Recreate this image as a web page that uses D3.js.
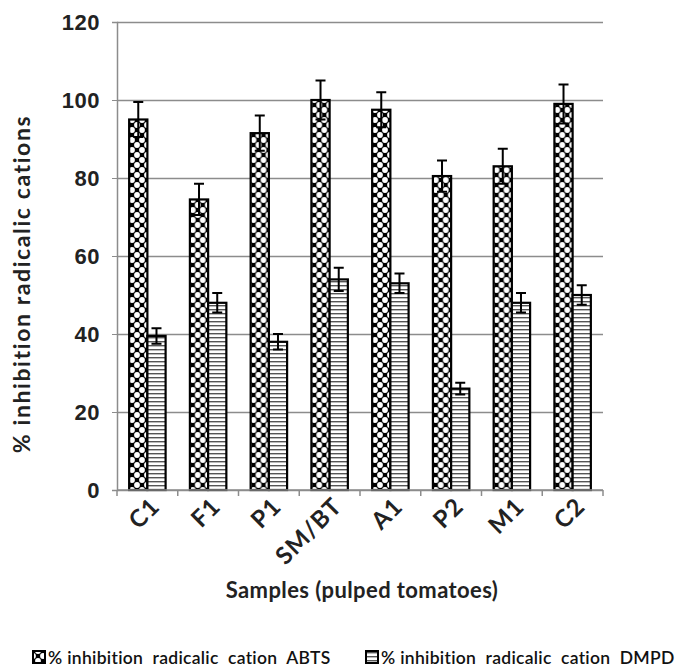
<!DOCTYPE html>
<html>
<head>
<meta charset="utf-8">
<script src="https://cdn.jsdelivr.net/npm/d3@7"></script>
<style>
  body { margin: 0; background: #fff; }
  svg { font-family: "Lato", "Open Sans", sans-serif; }
</style>
</head>
<body>
<svg id="chart" width="676" height="670"></svg>
<script>
var samples = ["C1", "F1", "P1", "SM/BT", "A1", "P2", "M1", "C2"];
var seriesNames = ["% inhibition  radicalic  cation  ABTS", "% inhibition  radicalic  cation  DMPD"];
var abts = [95, 74.5, 91.5, 100, 97.5, 80.5, 83, 99];
var abtsErr = [4.5, 4, 4.5, 5, 4.5, 4, 4.5, 5];
var dmpd = [39.5, 48, 38, 54, 53, 26, 48, 50];
var dmpdErr = [2, 2.5, 2, 3, 2.5, 1.5, 2.5, 2.5];
var yTicks = [0, 20, 40, 60, 80, 100, 120];

function drawChart() {
    var svg = d3.select("#chart");

    var defs = svg.append("defs");
    // diamond pattern for ABTS: black diamonds, white rounded gaps
    var pd = defs.append("pattern").attr("id", "diam")
        .attr("patternUnits", "userSpaceOnUse").attr("width", 10).attr("height", 10);
    pd.append("rect").attr("width", 10).attr("height", 10).attr("fill", "#000");
    [[5, 0], [0, 5], [10, 5], [5, 10]].forEach(function(c) {
        pd.append("circle").attr("cx", c[0]).attr("cy", c[1]).attr("r", 2.9).attr("fill", "#fff");
    });
    // horizontal stripes for DMPD
    var ps = defs.append("pattern").attr("id", "stripe")
        .attr("patternUnits", "userSpaceOnUse").attr("width", 8).attr("height", 4);
    ps.append("rect").attr("width", 8).attr("height", 4).attr("fill", "#fff");
    ps.append("rect").attr("y", 1).attr("width", 8).attr("height", 1.4).attr("fill", "#555");

    var plotLeft = 117, plotRight = 603, plotTop = 22, plotBottom = 490;

    var x = d3.scaleBand().domain(samples).range([plotLeft, plotRight]);
    var xs = d3.scaleBand().domain([0, 1]).range([x.bandwidth() * 0.2, x.bandwidth() * 0.8]);
    var y = d3.scaleLinear().domain([0, 120]).range([plotBottom, plotTop]);

    // gridlines
    svg.append("g")
        .attr("transform", "translate(" + plotLeft + ",0)")
        .call(d3.axisLeft(y).tickValues(yTicks).tickSizeInner(-(plotRight - plotLeft)).tickSizeOuter(0).tickFormat(""))
        .call(function(g) {
            g.select(".domain").remove();
            g.selectAll("line").attr("stroke", "#8c8c8c").attr("stroke-width", 1.5);
        });

    // y axis
    svg.append("g")
        .attr("transform", "translate(" + plotLeft + ",0)")
        .call(d3.axisLeft(y).tickValues(yTicks).tickSize(5).tickPadding(12))
        .call(function(g) {
            g.select(".domain").attr("stroke", "#8c8c8c").attr("stroke-width", 1.5);
            g.selectAll("line").attr("stroke", "#8c8c8c");
            g.selectAll("text").attr("font-size", 22).attr("font-weight", "bold")
                .attr("fill", "#222").attr("letter-spacing", 0.5);
        });

    // bars
    var groups = svg.append("g").selectAll("g")
        .data(samples).enter().append("g")
        .attr("transform", function(d) { return "translate(" + x(d) + ",0)"; });

    var series = [
        { vals: abts, errs: abtsErr, fill: "url(#diam)" },
        { vals: dmpd, errs: dmpdErr, fill: "url(#stripe)" }
    ];

    series.forEach(function(s, k) {
        groups.append("rect")
            .attr("x", xs(k))
            .attr("width", xs.bandwidth())
            .attr("y", function(d, i) { return y(s.vals[i]); })
            .attr("height", function(d, i) { return plotBottom - y(s.vals[i]); })
            .attr("fill", s.fill)
            .attr("stroke", "#000")
            .attr("stroke-width", 2.2);

        var cx = xs(k) + xs.bandwidth() / 2;
        groups.append("path")
            .attr("d", function(d, i) {
                var hi = y(s.vals[i] + s.errs[i]), lo = y(s.vals[i] - s.errs[i]);
                return "M" + cx + "," + hi + "V" + lo +
                    "M" + (cx - 5) + "," + hi + "H" + (cx + 5) +
                    "M" + (cx - 5) + "," + lo + "H" + (cx + 5);
            })
            .attr("stroke", "#000")
            .attr("stroke-width", 2)
            .attr("fill", "none");
    });

    // x axis
    var xTickPos = samples.map(function(d) { return x(d); }).concat([plotRight]);
    svg.append("line").attr("x1", plotLeft).attr("x2", plotRight).attr("y1", plotBottom).attr("y2", plotBottom)
        .attr("stroke", "#8c8c8c").attr("stroke-width", 1.5);
    svg.append("g").selectAll("line").data(xTickPos).enter().append("line")
        .attr("x1", function(d) { return d; }).attr("x2", function(d) { return d; })
        .attr("y1", plotBottom).attr("y2", plotBottom + 6)
        .attr("stroke", "#8c8c8c").attr("stroke-width", 1.5);

    svg.append("g").selectAll("text").data(samples).enter().append("text")
        .attr("transform", function(d) {
            return "translate(" + (x(d) + x.bandwidth() / 2 + 2) + "," + (plotBottom + 6) + ") rotate(-45)";
        })
        .attr("text-anchor", "end")
        .attr("dy", "0.7em")
        .attr("font-size", 24)
        .attr("font-weight", "bold")
        .attr("letter-spacing", 1)
        .attr("fill", "#222")
        .text(function(d) { return d; });

    // axis titles
    svg.append("text")
        .attr("x", 362).attr("y", 598)
        .attr("text-anchor", "middle")
        .attr("font-size", 22).attr("font-weight", "bold").attr("fill", "#222")
        .attr("letter-spacing", 0.4)
        .text("Samples (pulped tomatoes)");

    svg.append("text")
        .attr("transform", "translate(30,284) rotate(-90)")
        .attr("text-anchor", "middle")
        .attr("font-size", 23).attr("font-weight", "bold").attr("fill", "#222")
        .attr("letter-spacing", 1.6)
        .text("% inhibition radicalic cations");

    // legend
    var legendX = [33, 366];
    var legendFill = ["url(#diam)", "url(#stripe)"];
    var lg = svg.append("g").selectAll("g").data(seriesNames).enter().append("g")
        .attr("transform", function(d, i) { return "translate(" + legendX[i] + ",651)"; });
    lg.append("rect").attr("width", 12).attr("height", 12)
        .attr("fill", function(d, i) { return legendFill[i]; })
        .attr("stroke", "#000").attr("stroke-width", 2);
    lg.append("text")
        .attr("x", 15).attr("y", 13)
        .attr("font-size", 17.5).attr("fill", "#111")
        .attr("font-weight", 600)
        .attr("letter-spacing", 0.3)
        .style("white-space", "pre")
        .text(function(d) { return d; });
}

drawChart();
</script>
</body>
</html>
